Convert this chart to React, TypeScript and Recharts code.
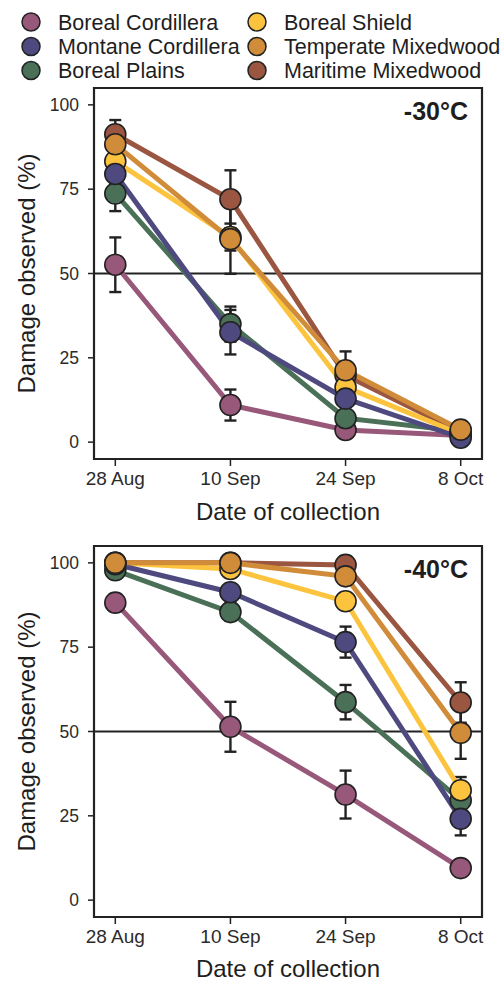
import { LineChart, Line, XAxis, YAxis, ErrorBar, ReferenceLine, ReferenceArea } from 'recharts';

const dates = ['28 Aug', '10 Sep', '24 Sep', '8 Oct'];
const regions = [
  'Boreal Cordillera',
  'Montane Cordillera',
  'Boreal Plains',
  'Boreal Shield',
  'Temperate Mixedwood',
  'Maritime Mixedwood',
];
const regionKeys = ['bc', 'mc', 'bp', 'bs', 'tm', 'mm'];
const regionColors = ['#98587a', '#4e4a80', '#4a7057', '#fcc43e', '#d18c3a', '#9a5640'];
const yTicks = [0, 25, 50, 75, 100];

// -30 C
const bc30 = [52.6, 11.0, 3.6, 2.0];
const bc30Err = [8.1, 4.6, 1.2, 0.5];
const mc30 = [79.5, 32.6, 12.9, 1.3];
const mc30Err = [3.0, 6.6, 2.0, 0.6];
const bp30 = [73.7, 35.0, 7.1, 3.2];
const bp30Err = [5.2, 5.2, 1.6, 0.8];
const bs30 = [83.3, 60.8, 16.3, 2.4];
const bs30Err = [3.0, 4.0, 3.0, 0.8];
const tm30 = [88.3, 60.2, 21.3, 3.7];
const tm30Err = [3.0, 10.3, 5.6, 1.0];
const mm30 = [91.3, 72.0, 19.8, 3.0];
const mm30Err = [4.2, 8.6, 3.0, 0.8];

// -40 C
const bc40 = [88.2, 51.4, 31.3, 9.5];
const bc40Err = [1.2, 7.4, 7.1, 1.5];
const mc40 = [99.6, 91.3, 76.5, 24.1];
const mc40Err = [0.5, 2.0, 4.6, 4.9];
const bp40 = [97.8, 85.4, 58.7, 29.6];
const bp40Err = [1.0, 2.5, 5.1, 3.0];
const bs40 = [100, 98.2, 88.6, 32.6];
const bs40Err = [0, 1.0, 2.0, 3.9];
const tm40 = [100, 100, 96.0, 49.6];
const tm40Err = [0, 0, 1.5, 7.7];
const mm40 = [100, 100, 99.4, 58.6];
const mm40Err = [0, 0, 0.8, 6.0];

// pink, brown, green, yellow, purple, orange (orange ends up on top)
const drawOrder = [0, 5, 2, 3, 1, 4];

function buildRows(values: number[][], errors: number[][]) {
  return dates.map((_, i) => {
    const row: Record<string, number> = { x: i };
    regionKeys.forEach((k, s) => {
      row[k] = values[s][i];
      row[k + 'Err'] = errors[s][i];
    });
    return row;
  });
}

const rows30 = buildRows(
  [bc30, mc30, bp30, bs30, tm30, mm30],
  [bc30Err, mc30Err, bp30Err, bs30Err, tm30Err, mm30Err]
);
const rows40 = buildRows(
  [bc40, mc40, bp40, bs40, tm40, mm40],
  [bc40Err, mc40Err, bp40Err, bs40Err, tm40Err, mm40Err]
);

const ink = '#1e1e1e';
const xDomain: [number, number] = [-0.185, 3.185];

interface PanelProps {
  rows: Record<string, number>[];
  label: string;
  top: number;
  marginTop: number;
  xAxisHeight: number;
  titleOffset: number;
}

function Panel({ rows, label, top, marginTop, xAxisHeight, titleOffset }: PanelProps) {
  const height = marginTop + 371 + xAxisHeight;
  return (
    <div style={{ position: 'absolute', left: 0, top }}>
      <LineChart
        width={504}
        height={height}
        data={rows}
        margin={{ top: marginTop, right: 22, bottom: 0, left: 0 }}
      >
        <XAxis
          dataKey="x"
          type="number"
          domain={xDomain}
          ticks={[0, 1, 2, 3]}
          tickFormatter={(v) => dates[v] ?? ''}
          interval={0}
          allowDataOverflow
          axisLine={false}
          tickLine={{ stroke: '#222', strokeWidth: 1.5 }}
          tickSize={7}
          tickMargin={6}
          height={xAxisHeight}
          tick={{ fontSize: 19, fill: '#2b2b2b' }}
          label={{
            value: 'Date of collection',
            position: 'insideBottom',
            offset: titleOffset,
            fontSize: 24,
            fill: ink,
          }}
        />
        <YAxis
          type="number"
          domain={[-5, 105]}
          ticks={yTicks}
          allowDataOverflow
          width={94}
          axisLine={false}
          tickLine={{ stroke: '#222', strokeWidth: 1.5 }}
          tickSize={6}
          tickMargin={9}
          tick={{ fontSize: 17.5, fill: '#2b2b2b' }}
          label={{
            value: 'Damage observed (%)',
            angle: -90,
            position: 'insideLeft',
            offset: 26,
            fontSize: 24,
            fill: ink,
            style: { textAnchor: 'middle' },
          }}
        />
        <ReferenceArea
          x1={xDomain[0]}
          x2={xDomain[1]}
          y1={-5}
          y2={105}
          fill="none"
          fillOpacity={0}
          stroke="#222"
          strokeWidth={2.2}
          ifOverflow="visible"
          label={{
            value: label,
            position: 'insideTopRight',
            offset: 14,
            fontSize: 25,
            fontWeight: 'bold',
            fill: ink,
          }}
        />
        <ReferenceLine y={50} stroke="#222" strokeWidth={2} />
        {drawOrder.map((s) => (
          <Line
            key={regionKeys[s]}
            type="linear"
            dataKey={regionKeys[s]}
            name={regions[s]}
            stroke={regionColors[s]}
            strokeWidth={5}
            dot={{ r: 10.5, fill: regionColors[s], stroke: '#222', strokeWidth: 1.6 }}
            activeDot={false}
            isAnimationActive={false}
          >
            <ErrorBar
              dataKey={regionKeys[s] + 'Err'}
              direction="y"
              width={6}
              stroke="#222"
              strokeWidth={2.4}
              isAnimationActive={false}
            />
          </Line>
        ))}
      </LineChart>
    </div>
  );
}

function Legend() {
  const rowsY = [22, 46.5, 70.5];
  return (
    <svg width={504} height={84} style={{ position: 'absolute', left: 0, top: 0 }}>
      {regions.map((name, i) => {
        const col = Math.floor(i / 3);
        const cy = rowsY[i % 3];
        const cx = col === 0 ? 31 : 257;
        return (
          <g key={name}>
            <circle cx={cx} cy={cy} r={9} fill={regionColors[i]} stroke="#222" strokeWidth={1.5} />
            <text x={cx + 27} y={cy + 7.5} fontSize={21.5} fill={ink}>
              {name}
            </text>
          </g>
        );
      })}
    </svg>
  );
}

export default function App() {
  return (
    <div
      style={{
        position: 'absolute',
        left: 0,
        top: 0,
        width: 504,
        height: 981,
        overflow: 'hidden',
        background: '#fff',
        fontFamily: '"Liberation Sans", Arial, sans-serif',
      }}
    >
      <Legend />
      <Panel rows={rows30} label="-30°C" top={80} marginTop={8} xAxisHeight={71} titleOffset={10} />
      <Panel rows={rows40} label="-40°C" top={537} marginTop={9} xAxisHeight={64} titleOffset={4} />
    </div>
  );
}
